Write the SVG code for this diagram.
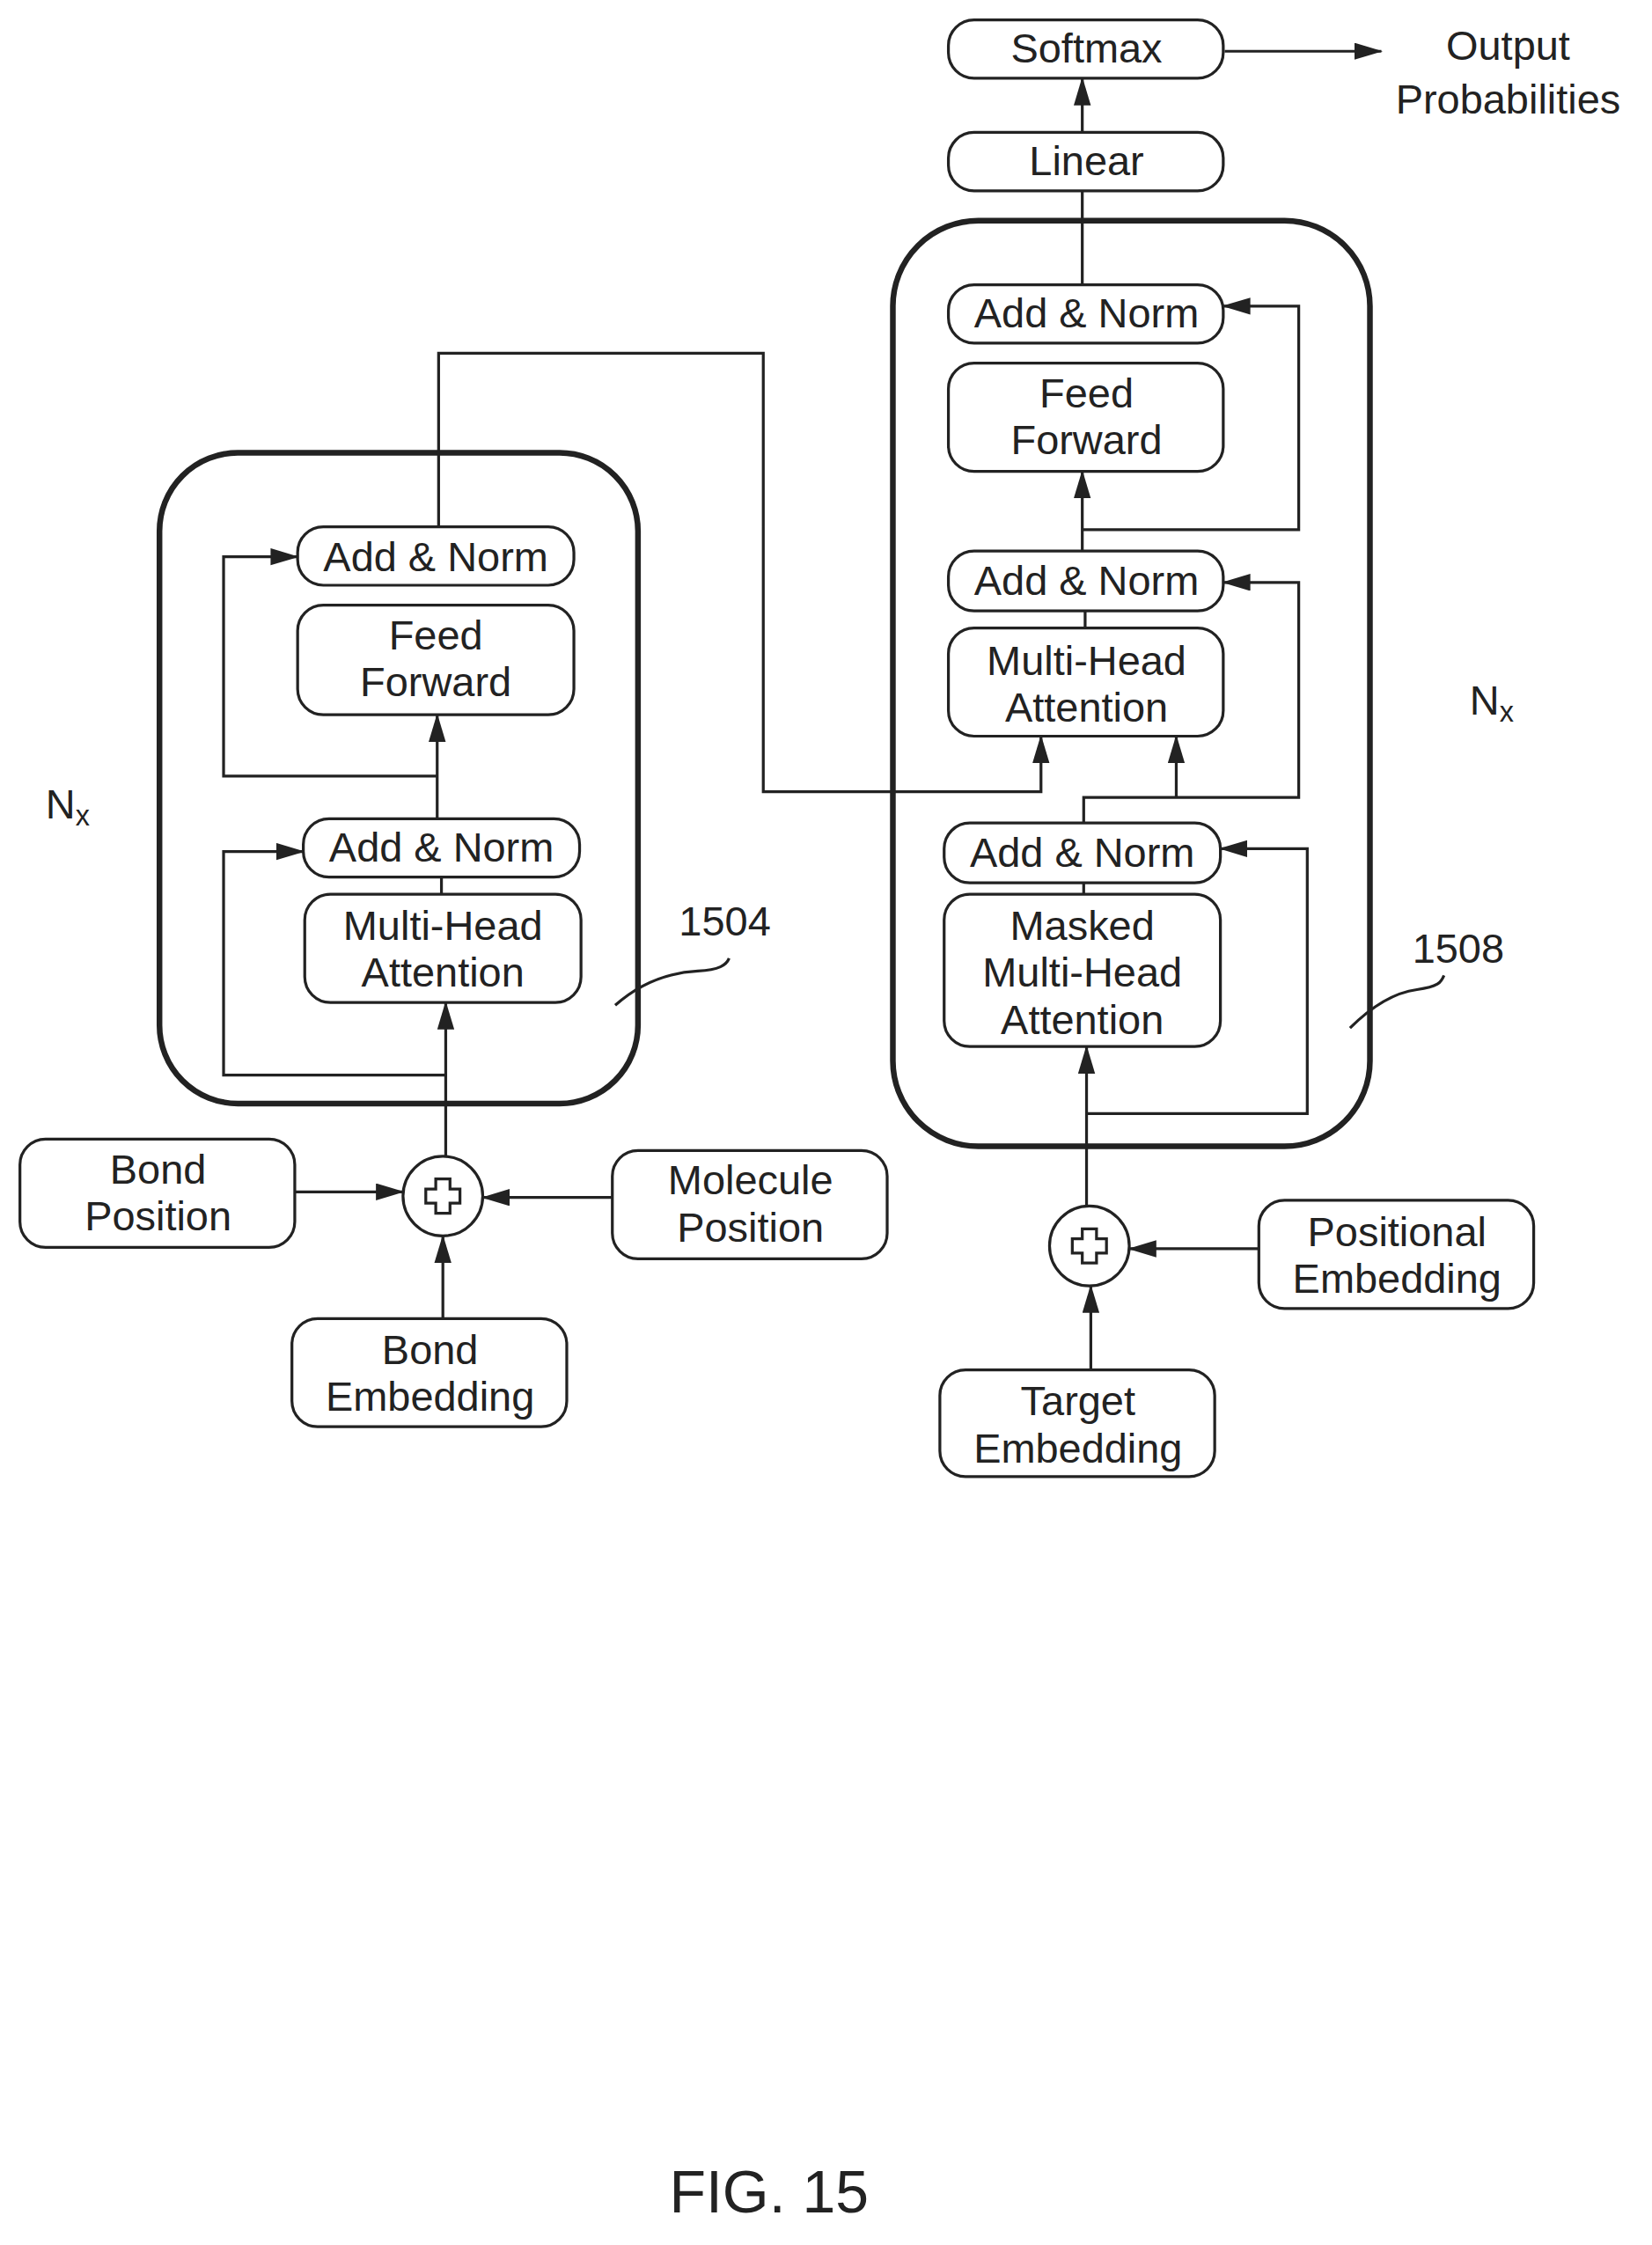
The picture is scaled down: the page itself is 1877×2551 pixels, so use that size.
<svg xmlns="http://www.w3.org/2000/svg" width="1877" height="2551" viewBox="0 0 1877 2551">
<style>
.b{fill:#fff;stroke:#222;stroke-width:2}
.big{fill:none;stroke:#222;stroke-width:4}
.t{font-family:"Liberation Sans",Arial,sans-serif;font-size:29px;fill:#222;text-anchor:middle}
.c{fill:none;stroke:#222;stroke-width:2}
</style>
<defs>
<marker id="a" markerUnits="userSpaceOnUse" markerWidth="20" markerHeight="14" refX="19" refY="6" orient="auto"><path d="M0,0 L20,6 L0,12 Z" fill="#222"/></marker>
</defs>
<rect width="1877" height="2551" fill="#fff"/>
<g transform="scale(1.618)">
<g id="encoder"><rect class="big" x="112" y="318" width="336" height="457" rx="55"/></g>
<g id="decoder"><rect class="big" x="627" y="155" width="335" height="650" rx="60"/></g>
<g id="connectors" class="c">
<path d="M313,815 V704" marker-end="url(#a)"/>
<path d="M313,755 H157 V598 H213" marker-end="url(#a)"/>
<path d="M310,628 V616"/>
<path d="M307,575 V502" marker-end="url(#a)"/>
<path d="M307,545 H157 V391 H209" marker-end="url(#a)"/>
<path d="M308,370 V248 H536 V556 H731 V517" marker-end="url(#a)"/>
<path d="M207,837 H283" marker-end="url(#a)"/>
<path d="M430,841 H339" marker-end="url(#a)"/>
<path d="M311,926 V868" marker-end="url(#a)"/>
<path d="M760,93 V55" marker-end="url(#a)"/>
<path d="M760,200 V134"/>
<path d="M860,36 H970" marker-end="url(#a)"/>
<path d="M763,848 V735" marker-end="url(#a)"/>
<path d="M763,782 H918 V596 H857" marker-end="url(#a)"/>
<path d="M761,628 V620"/>
<path d="M761,578 V560 H912 V409 H859" marker-end="url(#a)"/>
<path d="M826,560 V517" marker-end="url(#a)"/>
<path d="M762,441 V429"/>
<path d="M760,387 V331" marker-end="url(#a)"/>
<path d="M760,372 H912 V215 H859" marker-end="url(#a)"/>
<path d="M884,877 H793" marker-end="url(#a)"/>
<path d="M766,962 V903" marker-end="url(#a)"/>
<path d="M432,706 C450,690 470,683 490,682 C505,681 510,678 512,673"/>
<path d="M948,722 C965,705 980,697 995,695 C1010,693 1012,690 1014,685"/>
</g>
<g id="enc_addnorm2"><rect class="b" x="209" y="370" width="194" height="41" rx="18"/><text class="t" x="306" y="401">Add &amp; Norm</text></g>
<g id="enc_ff"><rect class="b" x="209" y="425" width="194" height="77" rx="18"/><text class="t" x="306" y="456">Feed</text><text class="t" x="306" y="489">Forward</text></g>
<g id="enc_addnorm1"><rect class="b" x="213" y="575" width="194" height="41" rx="18"/><text class="t" x="310" y="605">Add &amp; Norm</text></g>
<g id="enc_mha"><rect class="b" x="214" y="628" width="194" height="76" rx="18"/><text class="t" x="311" y="660">Multi-Head</text><text class="t" x="311" y="693">Attention</text></g>
<g id="enc_plus"><circle class="b" cx="311" cy="840" r="28"/><path class="c" d="M306,828 h10 v7 h7 v10 h-7 v7 h-10 v-7 h-7 v-10 h7 z"/></g>
<g id="bond_pos"><rect class="b" x="14" y="800" width="193" height="76" rx="18"/><text class="t" x="111" y="831">Bond</text><text class="t" x="111" y="864">Position</text></g>
<g id="mol_pos"><rect class="b" x="430" y="808" width="193" height="76" rx="18"/><text class="t" x="527" y="839">Molecule</text><text class="t" x="527" y="872">Position</text></g>
<g id="bond_emb"><rect class="b" x="205" y="926" width="193" height="76" rx="18"/><text class="t" x="302" y="958">Bond</text><text class="t" x="302" y="991">Embedding</text></g>
<g id="nx1"><text class="t" x="32" y="575" style="text-anchor:start">N<tspan font-size="20" dy="5">x</tspan></text></g>
<g id="l1504"><text class="t" x="509" y="657">1504</text></g>
<g id="softmax"><rect class="b" x="666" y="14" width="193" height="41" rx="18"/><text class="t" x="763" y="44">Softmax</text></g>
<g id="linear"><rect class="b" x="666" y="93" width="193" height="41" rx="18"/><text class="t" x="763" y="123">Linear</text></g>
<g id="out"><text class="t" x="1059" y="42">Output</text><text class="t" x="1059" y="80">Probabilities</text></g>
<g id="dec_addnorm3"><rect class="b" x="666" y="200" width="193" height="41" rx="18"/><text class="t" x="763" y="230">Add &amp; Norm</text></g>
<g id="dec_ff"><rect class="b" x="666" y="255" width="193" height="76" rx="18"/><text class="t" x="763" y="286">Feed</text><text class="t" x="763" y="319">Forward</text></g>
<g id="dec_addnorm2"><rect class="b" x="666" y="387" width="193" height="42" rx="18"/><text class="t" x="763" y="418">Add &amp; Norm</text></g>
<g id="dec_mha"><rect class="b" x="666" y="441" width="193" height="76" rx="18"/><text class="t" x="763" y="474">Multi-Head</text><text class="t" x="763" y="507">Attention</text></g>
<g id="dec_addnorm1"><rect class="b" x="663" y="578" width="194" height="42" rx="18"/><text class="t" x="760" y="609">Add &amp; Norm</text></g>
<g id="dec_mmha"><rect class="b" x="663" y="628" width="194" height="107" rx="18"/><text class="t" x="760" y="660">Masked</text><text class="t" x="760" y="693">Multi-Head</text><text class="t" x="760" y="726">Attention</text></g>
<g id="dec_plus"><circle class="b" cx="765" cy="875" r="28"/><path class="c" d="M760,863 h10 v7 h7 v10 h-7 v7 h-10 v-7 h-7 v-10 h7 z"/></g>
<g id="pos_emb"><rect class="b" x="884" y="843" width="193" height="76" rx="18"/><text class="t" x="981" y="875">Positional</text><text class="t" x="981" y="908">Embedding</text></g>
<g id="tgt_emb"><rect class="b" x="660" y="962" width="193" height="75" rx="18"/><text class="t" x="757" y="994">Target</text><text class="t" x="757" y="1027">Embedding</text></g>
<g id="nx2"><text class="t" x="1032" y="502" style="text-anchor:start">N<tspan font-size="20" dy="5">x</tspan></text></g>
<g id="l1508"><text class="t" x="1024" y="676">1508</text></g>
<g id="fig"><text class="t" x="540" y="1554" style="font-size:42px">FIG. 15</text></g>
</g>
</svg>
